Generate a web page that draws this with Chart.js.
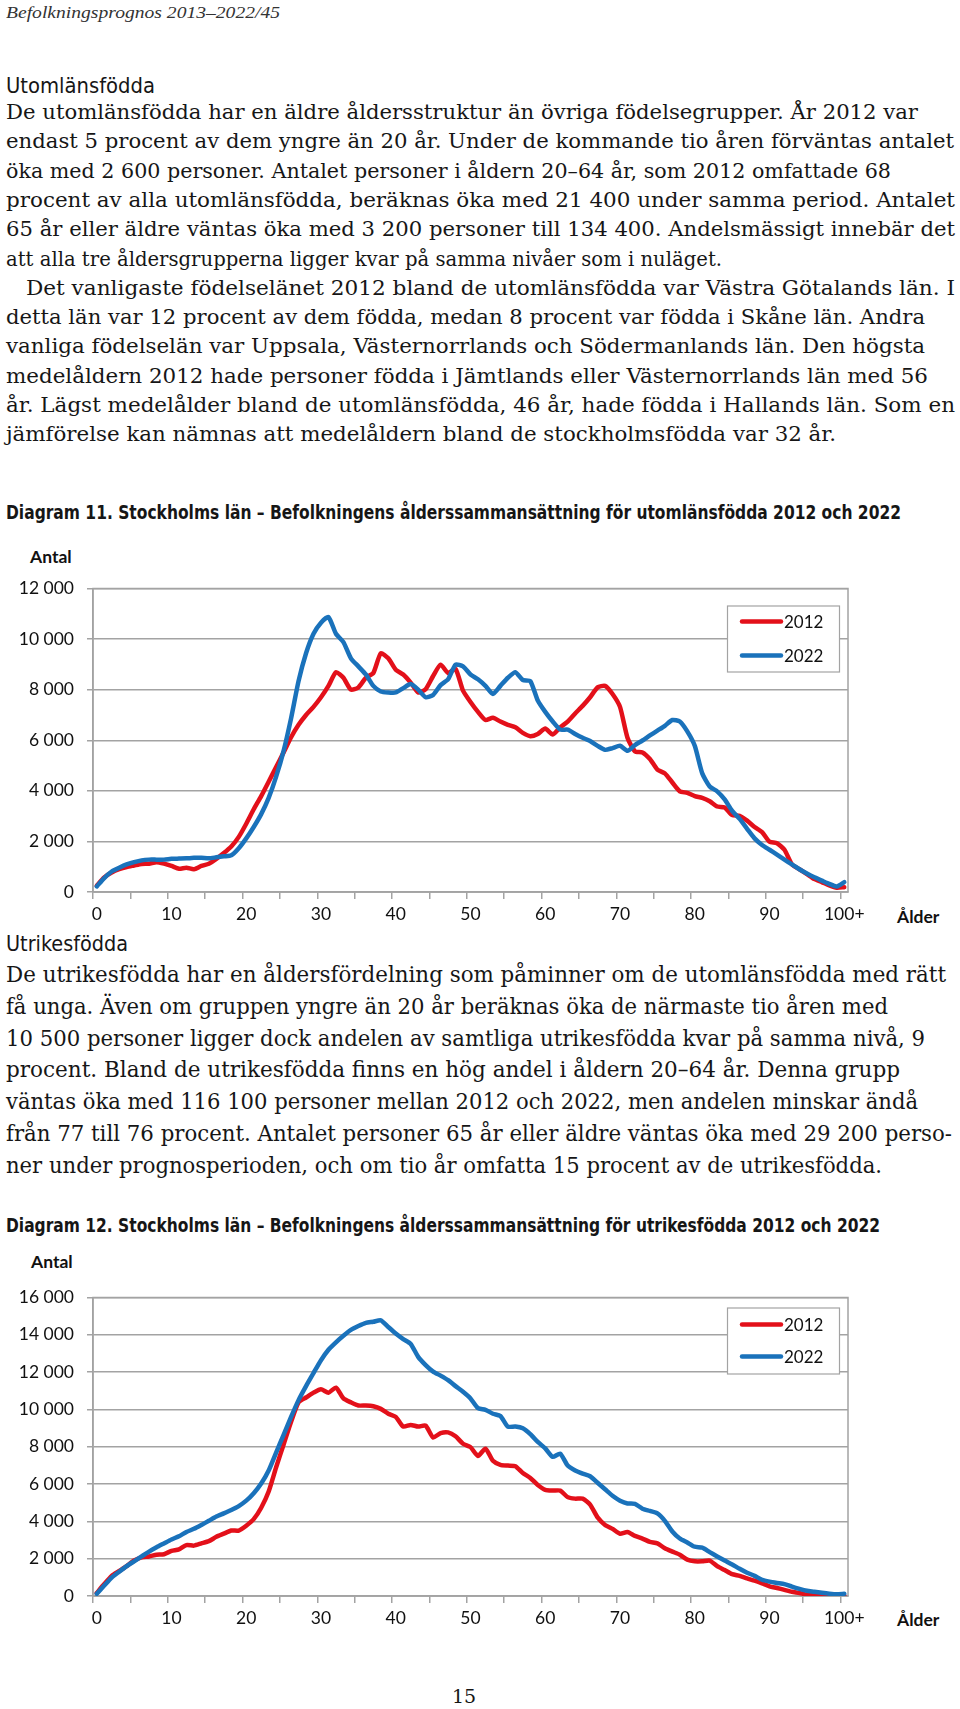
<!DOCTYPE html>
<html>
<head>
<meta charset="utf-8">
<script src="https://cdn.jsdelivr.net/npm/chart.js@4.4.0/dist/chart.umd.min.js"></script>
<style>
  body { margin:0; background:#fff; width:960px; height:1709px; position:relative; overflow:hidden; color:#161616; }
  .t { position:absolute; left:6px; white-space:nowrap; transform-origin:0 50%; height:30px; line-height:30px; }
  .hdr { font-family:"Liberation Serif", serif; font-style:italic; font-size:17px; color:#333; }
  .h { font-family:"Liberation Sans Narrow", "DejaVu Sans Condensed", sans-serif; font-size:22px; }
  .p { font-family:"DejaVu Serif", serif; font-size:20px; }
  .p2 { font-family:"DejaVu Serif", serif; font-size:21.5px; }
  .dt { font-family:"Liberation Sans Narrow", "DejaVu Sans Condensed", sans-serif; font-weight:bold; font-size:20px; }
  .ax { position:absolute; font-family:Lato, sans-serif; font-weight:bold; font-size:17.5px; height:24px; line-height:24px; color:#111; }
  .pg { position:absolute; font-family:"DejaVu Serif", serif; font-size:19px; }
  canvas { position:absolute; left:0; }
</style>
</head>
<body>
<div id="page"></div>

<div class="ax" style="left:30px;top:545px;">Antal</div>
<div class="ax" style="left:897px;top:905px;">Ålder</div>
<canvas id="chart1" width="960" height="367" style="top:565px;"></canvas>

<div class="ax" style="left:31px;top:1250px;">Antal</div>
<div class="ax" style="left:897px;top:1608px;">Ålder</div>
<canvas id="chart2" width="960" height="362" style="top:1274px;"></canvas>

<div class="pg" style="left:452px;top:1685px;">15</div>

<script>
// ålder 0..99 och 100+
const ages = Array.from({length: 100}, (_, i) => String(i)).concat('100+');

// Diagram 11, utomlänsfödda
const utom2012 = [250, 580, 770, 900, 990, 1050, 1110, 1120, 1180, 1120,
  1030, 920, 960, 900, 1030, 1120, 1310, 1540, 1800, 2180,
  2700, 3270, 3790, 4360, 4940, 5520, 6120, 6610, 7000, 7320,
  7700, 8150, 8690, 8470, 8000, 8090, 8470, 8660, 9440, 9240,
  8790, 8600, 8280, 7890, 8020, 8540, 8990, 8660, 8820, 7960,
  7510, 7120, 6800, 6890, 6740, 6610, 6510, 6290, 6160, 6250,
  6460, 6230, 6510, 6740, 7060, 7360, 7700, 8090, 8150, 7830,
  7320, 6100, 5560, 5520, 5260, 4840, 4690, 4330, 3980, 3920,
  3790, 3720, 3590, 3380, 3340, 3040, 3010, 2820, 2570, 2370,
  1990, 1930, 1670, 1090, 900, 710, 510, 390, 260, 170, 190];
const utom2022 = [220, 550, 810, 960, 1090, 1180, 1250, 1280, 1280, 1280,
  1310, 1320, 1330, 1350, 1350, 1330, 1370, 1410, 1450, 1730,
  2120, 2570, 3080, 3720, 4560, 5580, 6870, 8340, 9440, 10210,
  10650, 10870, 10210, 9880, 9240, 8920, 8600, 8150, 7930, 7890,
  7890, 8060, 8220, 8000, 7700, 7790, 8180, 8410, 8990, 8920,
  8600, 8410, 8150, 7830, 8150, 8470, 8690, 8380, 8340, 7570,
  7120, 6740, 6420, 6420, 6250, 6100, 5970, 5780, 5620, 5690,
  5780, 5580, 5810, 5990, 6190, 6380, 6570, 6800, 6740, 6350,
  5780, 4690, 4170, 3980, 3660, 3210, 2890, 2500, 2120, 1860,
  1670, 1480, 1280, 1090, 900, 730, 580, 450, 320, 220, 390];

// Diagram 12, utrikesfödda
const utr2012 = [160, 640, 1080, 1340, 1600, 1900, 2070, 2120, 2210, 2240,
  2420, 2500, 2730, 2700, 2820, 2940, 3170, 3340, 3510, 3510,
  3770, 4120, 4730, 5600, 6900, 8120, 9340, 10380, 10640, 10900,
  11080, 10900, 11170, 10590, 10380, 10210, 10210, 10170, 10030, 9770,
  9600, 9080, 9170, 9080, 9130, 8500, 8730, 8770, 8560, 8160,
  7980, 7510, 7900, 7250, 7030, 6990, 6960, 6590, 6330, 5950,
  5690, 5650, 5650, 5300, 5220, 5220, 4900, 4210, 3810, 3600,
  3340, 3430, 3220, 3080, 2900, 2820, 2560, 2380, 2210, 1950,
  1860, 1860, 1900, 1600, 1390, 1170, 1080, 940, 820, 680,
  520, 430, 330, 230, 160, 70, 35, 20, 10, 5, 30];
const utr2022 = [120, 560, 990, 1300, 1600, 1860, 2120, 2380, 2610, 2820,
  3030, 3200, 3430, 3600, 3810, 4030, 4260, 4430, 4610, 4820,
  5110, 5510, 6030, 6730, 7690, 8640, 9600, 10500, 11250, 11950,
  12640, 13200, 13600, 13950, 14260, 14470, 14640, 14700, 14780, 14420,
  14070, 13770, 13510, 12820, 12380, 12030, 11810, 11570, 11250, 10950,
  10590, 10070, 9980, 9770, 9650, 9080, 9080, 8990, 8680, 8260,
  7910, 7460, 7630, 6990, 6730, 6560, 6420, 6070, 5720, 5370,
  5110, 4960, 4940, 4680, 4560, 4430, 4030, 3460, 3080, 2870,
  2640, 2590, 2350, 2120, 1900, 1690, 1460, 1250, 1080, 870,
  770, 700, 640, 500, 380, 280, 230, 170, 120, 90, 120];

const seriesNames = ['2012', '2022'];
const yTicks1 = [0, 2000, 4000, 6000, 8000, 10000, 12000];
const yTicks2 = [0, 2000, 4000, 6000, 8000, 10000, 12000, 14000, 16000];

// sidans text: [klass, mitt-y, text, högerkant, vänster]
const lines = [
  ['hdr', 13, 'Befolkningsprognos 2013–2022/45', 280],
  ['h', 86, 'Utomlänsfödda', 155],
  ['p', 112, 'De utomlänsfödda har en äldre åldersstruktur än övriga födelsegrupper. År 2012 var', 918],
  ['p', 141.3, 'endast 5 procent av dem yngre än 20 år. Under de kommande tio åren förväntas antalet', 954],
  ['p', 170.6, 'öka med 2 600 personer. Antalet personer i åldern 20–64 år, som 2012 omfattade 68', 891],
  ['p', 199.9, 'procent av alla utomlänsfödda, beräknas öka med 21 400 under samma period. Antalet', 955],
  ['p', 229.2, '65 år eller äldre väntas öka med 3 200 personer till 134 400. Andelsmässigt innebär det', 955],
  ['p', 258.5, 'att alla tre åldersgrupperna ligger kvar på samma nivåer som i nuläget.', 722],
  ['p', 287.8, 'Det vanligaste födelselänet 2012 bland de utomlänsfödda var Västra Götalands län. I', 955, 26],
  ['p', 317.1, 'detta län var 12 procent av dem födda, medan 8 procent var födda i Skåne län. Andra', 925],
  ['p', 346.4, 'vanliga födelselän var Uppsala, Västernorrlands och Södermanlands län. Den högsta', 925],
  ['p', 375.7, 'medelåldern 2012 hade personer födda i Jämtlands eller Västernorrlands län med 56', 928],
  ['p', 405, 'år. Lägst medelålder bland de utomlänsfödda, 46 år, hade födda i Hallands län. Som en', 955],
  ['p', 434.3, 'jämförelse kan nämnas att medelåldern bland de stockholmsfödda var 32 år.', 836],
  ['dt', 512, 'Diagram 11. Stockholms län – Befolkningens ålderssammansättning för utomlänsfödda 2012 och 2022', 901],
  ['h', 944, 'Utrikesfödda', 128],
  ['p2', 975, 'De utrikesfödda har en åldersfördelning som påminner om de utomlänsfödda med rätt', 946],
  ['p2', 1006.8, 'få unga. Även om gruppen yngre än 20 år beräknas öka de närmaste tio åren med', 888],
  ['p2', 1038.6, '10 500 personer ligger dock andelen av samtliga utrikesfödda kvar på samma nivå, 9', 925],
  ['p2', 1070.4, 'procent. Bland de utrikesfödda finns en hög andel i åldern 20–64 år. Denna grupp', 900],
  ['p2', 1102.2, 'väntas öka med 116 100 personer mellan 2012 och 2022, men andelen minskar ändå', 918],
  ['p2', 1134, 'från 77 till 76 procent. Antalet personer 65 år eller äldre väntas öka med 29 200 perso-', 952],
  ['p2', 1165.8, 'ner under prognosperioden, och om tio år omfatta 15 procent av de utrikesfödda.', 882],
  ['dt', 1225, 'Diagram 12. Stockholms län – Befolkningens ålderssammansättning för utrikesfödda 2012 och 2022', 880]
];

const page = document.getElementById('page');
lines.forEach(([cls, y, text, right, left]) => {
  const el = document.createElement('div');
  el.className = 't ' + cls;
  el.textContent = text;
  const x = left || 6;
  el.style.left = x + 'px';
  el.style.top = (y - 15) + 'px';
  page.appendChild(el);
  const w = el.getBoundingClientRect().width;
  el.style.transform = 'scaleX(' + ((right - x) / w) + ')';
});

Chart.defaults.font.family = 'Lato';
Chart.defaults.font.size = 17.5;
Chart.defaults.color = '#111';

const gridGray = '#a3a3a3';

const plotBorder = {
  id: 'plotBorder',
  beforeDatasetsDraw(chart) {
    const a = chart.chartArea;
    const ctx = chart.ctx;
    ctx.save();
    ctx.strokeStyle = gridGray;
    ctx.lineWidth = 1.5;
    ctx.strokeRect(a.left, a.top, a.right - a.left, a.bottom - a.top);
    ctx.restore();
  }
};

const boxLegend = {
  id: 'boxLegend',
  afterDraw(chart, args, opts) {
    const a = chart.chartArea;
    const ctx = chart.ctx;
    const x = a.right - 9 - 112;
    const y = a.top + opts.top;
    ctx.save();
    ctx.fillStyle = '#fff';
    ctx.fillRect(x, y, 112, 66);
    ctx.strokeStyle = gridGray;
    ctx.lineWidth = 1.2;
    ctx.strokeRect(x + 0.5, y + 0.5, 112, 66);
    chart.data.datasets.forEach((ds, i) => {
      const cy = y + opts.first + i * opts.gap;
      ctx.strokeStyle = ds.borderColor;
      ctx.lineWidth = 4.5;
      ctx.lineCap = 'round';
      ctx.beginPath();
      ctx.moveTo(x + 15, cy);
      ctx.lineTo(x + 54, cy);
      ctx.stroke();
      ctx.fillStyle = '#111';
      ctx.font = '17px Lato';
      ctx.textBaseline = 'middle';
      ctx.fillText(ds.label, x + 57, cy + 1);
    });
    ctx.restore();
  }
};

function makeChart(id, red, blue, yTicks, axisWidth, legendTop) {
  const yMax = yTicks[yTicks.length - 1];
  return new Chart(document.getElementById(id), {
    type: 'line',
    data: {
      labels: ages,
      datasets: [
        { label: seriesNames[0], data: red, borderColor: '#e3101a', order: 1 },
        { label: seriesNames[1], data: blue, borderColor: '#1a72bb', order: 0 }
      ]
    },
    options: {
      responsive: false,
      animation: false,
      devicePixelRatio: 1,
      layout: { padding: { left: 0, right: 112, top: 15, bottom: 0 } },
      elements: {
        line: { borderWidth: 4.5, tension: 0.2, borderJoinStyle: 'round', borderCapStyle: 'round', fill: false },
        point: { radius: 0 }
      },
      scales: {
        x: {
          type: 'category',
          offset: true,
          afterFit: s => { s.height = 40; },
          grid: {
            offset: true,
            drawOnChartArea: false,
            tickLength: 7,
            lineWidth: 1.5,
            color: c => (c.index % 5 === 0 ? gridGray : 'rgba(0,0,0,0)')
          },
          border: { color: gridGray, width: 1.5 },
          ticks: {
            autoSkip: false,
            maxRotation: 0,
            padding: 5,
            color: '#111',
            font: { family: 'Lato', size: 17.5 },
            callback: (v, i) => (i % 10 === 0 ? ages[i] : '')
          }
        },
        y: {
          min: 0,
          max: yMax,
          afterFit: s => { s.width = axisWidth; },
          afterBuildTicks: s => { s.ticks = yTicks.map(v => ({ value: v })); },
          grid: { color: gridGray, lineWidth: 1.5, tickLength: 6 },
          border: { color: gridGray, width: 1.5 },
          ticks: {
            padding: 13,
            color: '#111',
            font: { family: 'Lato', size: 17.5 },
            callback: v => (v === 0 ? '0' : (v / 1000) + ' 000')
          }
        }
      },
      plugins: {
        legend: { display: false },
        tooltip: { enabled: false },
        boxLegend: legendTop
      }
    },
    plugins: [plotBorder, boxLegend]
  });
}

makeChart('chart1', utom2012, utom2022, yTicks1, 93, { top: 17, first: 16, gap: 34 });
makeChart('chart2', utr2012, utr2022, yTicks2, 93, { top: 10, first: 17, gap: 32 });
</script>
</body>
</html>
